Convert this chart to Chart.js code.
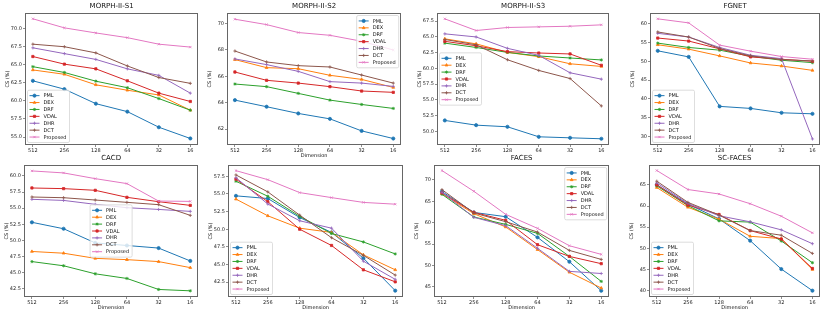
<!DOCTYPE html>
<html>
<head>
<meta charset="utf-8">
<script src="https://cdn.jsdelivr.net/npm/chart.js@4.4.0/dist/chart.umd.min.js"></script>
<style>
  body { margin: 0; background: #fff; }
  #wrap { position: relative; width: 830px; height: 314px; overflow: hidden; background: #fff; }
  .panel { position: absolute; }
</style>
</head>
<body>
<div id="wrap"></div>
<script>
const dimensions = ["512", "256", "128", "64", "32", "16"];
const methods = ["PML", "DEX", "DRF", "VDAL", "DHR", "DCT", "Proposed"];
const colors = ["#1f77b4", "#ff7f0e", "#2ca02c", "#d62728", "#9467bd", "#8c564b", "#e377c2"];
const markers = ["circle", "triangle", "star", "rect", "cross", "cross", "crossRot"];

// one row per method, in the order of `methods`
const morphS1 = [
  [62.75, 61.6, 59.6, 58.5, 56.35, 54.8],
  [64.25, 63.65, 62.2, 61.45, 60.8, 58.7],
  [64.7, 63.9, 62.7, 61.8, 60.3, 58.7],
  [66.1, 65.05, 64.4, 62.75, 61.05, 59.9],
  [67.3, 66.5, 65.7, 64.4, 63.5, 61.05],
  [67.8, 67.45, 66.6, 64.8, 63.2, 62.4],
  [71.3, 70.05, 69.35, 68.7, 67.8, 67.4]
];
const morphS2 = [
  [64.2, 63.7, 63.19, 62.78, 61.87, 61.29],
  [67.27, 66.66, 66.58, 66.08, 65.77, 65.16],
  [65.42, 65.22, 64.71, 64.2, 63.87, 63.57],
  [66.33, 65.7, 65.49, 65.22, 64.89, 64.79],
  [67.32, 66.89, 66.38, 65.6, 65.49, 65.24],
  [67.92, 67.09, 66.81, 66.71, 66.1, 65.49],
  [70.33, 69.92, 69.32, 69.11, 68.66, 68.0]
];
const morphS3 = [
  [51.75, 51.0, 50.74, 49.15, 48.99, 48.84],
  [64.7, 63.9, 62.55, 61.87, 60.74, 60.32],
  [64.02, 63.33, 62.55, 61.98, 61.66, 61.35],
  [64.3, 63.6, 62.67, 62.45, 62.3, 60.5],
  [65.49, 65.0, 63.19, 62.08, 59.31, 58.3],
  [64.6, 63.75, 61.38, 59.68, 58.4, 54.05],
  [67.87, 66.02, 66.5, 66.6, 66.7, 66.92]
];
const fgnet = [
  [52.77, 51.16, 38.04, 37.5, 36.34, 36.07],
  [54.38, 53.21, 51.43, 49.55, 48.75, 47.59],
  [54.82, 53.66, 52.95, 51.34, 50.27, 49.64],
  [56.16, 55.36, 53.3, 51.16, 50.54, 50.0],
  [57.41, 56.43, 53.66, 51.6, 50.7, 29.4],
  [57.77, 56.43, 53.39, 51.43, 50.45, 50.09],
  [61.25, 60.18, 54.29, 52.68, 51.25, 50.54]
];
const cacd = [
  [52.8, 51.8, 49.6, 49.2, 48.8, 46.8],
  [48.27, 48.0, 47.2, 47.0, 46.7, 45.76],
  [46.7, 46.05, 44.8, 44.08, 42.37, 42.16],
  [58.13, 58.03, 57.77, 56.68, 56.0, 55.43],
  [56.37, 56.2, 55.59, 55.07, 54.8, 54.5],
  [56.73, 56.62, 56.26, 55.9, 55.54, 53.88],
  [60.78, 60.47, 59.58, 58.81, 56.1, 56.05]
];
const untitled = [
  [54.73, 54.35, 51.66, 49.55, 45.9, 41.3],
  [54.27, 51.9, 50.15, 49.55, 46.37, 44.25],
  [56.8, 54.67, 51.83, 49.4, 48.2, 46.5],
  [57.1, 53.9, 50.0, 47.7, 44.25, 42.55],
  [57.3, 53.57, 51.2, 50.15, 45.47, 42.9],
  [57.69, 55.29, 52.0, 48.8, 46.3, 43.5],
  [58.3, 57.02, 55.19, 54.48, 53.8, 53.55]
];
const faces = [
  [67.3, 62.4, 61.4, 56.56, 50.86, 44.06],
  [66.8, 62.1, 59.0, 53.7, 48.4, 44.7],
  [66.64, 61.33, 59.6, 57.5, 52.1, 46.25],
  [66.95, 62.42, 60.55, 54.84, 52.1, 50.4],
  [67.1, 61.25, 59.3, 54.0, 48.6, 48.1],
  [67.73, 62.27, 60.23, 57.8, 53.5, 51.4],
  [72.2, 67.35, 61.95, 58.67, 54.6, 52.58]
];
const scFaces = [
  [65.0, 60.47, 56.96, 51.82, 45.1, 40.0],
  [64.37, 59.7, 56.9, 52.85, 52.3, 45.0],
  [64.76, 60.1, 56.5, 56.2, 51.74, 46.6],
  [65.0, 60.24, 58.0, 54.2, 52.2, 45.24],
  [65.47, 60.63, 57.7, 56.27, 54.37, 51.1],
  [65.87, 60.87, 57.87, 54.2, 53.1, 48.8],
  [68.4, 63.9, 62.85, 60.55, 57.6, 53.66]
];

// y tick labels for each panel
const ticksS1 = [55, 57.5, 60, 62.5, 65, 67.5, 70];
const ticksS2 = [62, 64, 66, 68, 70];
const ticksS3 = [50, 52.5, 55, 57.5, 60, 62.5, 65, 67.5];
const ticksFgnet = [30, 35, 40, 45, 50, 55, 60];
const ticksCacd = [42.5, 45, 47.5, 50, 52.5, 55, 57.5, 60];
const ticksUntitled = [42.5, 45, 47.5, 50, 52.5, 55, 57.5];
const ticksFaces = [45, 50, 55, 60, 65, 70];
const ticksScFaces = [40, 45, 50, 55, 60, 65];

const FONT = '"DejaVu Sans", sans-serif';
const Y_W = 25, X_H = 16, TOP_PAD = 12, RIGHT_PAD = 3;

const panels = [
  { title: "MORPH-II-S1", data: morphS1, yt: ticksS1, dec: 1, min: 53.9, max: 72.1, box: [25, 13, 200, 145], legend: "lower left", xTitle: "" },
  { title: "MORPH-II-S2", data: morphS2, yt: ticksS2, dec: 0, min: 60.8, max: 70.8, box: [227, 13, 403, 145], legend: "upper right", xTitle: "Dimension" },
  { title: "MORPH-II-S3", data: morphS3, yt: ticksS3, dec: 1, min: 47.85, max: 68.8, box: [437, 13, 611, 145], legend: "center left", xTitle: "" },
  { title: "FGNET", data: fgnet, yt: ticksFgnet, dec: 0, min: 27.8, max: 62.8, box: [650, 13, 822, 145], legend: "lower left", xTitle: "" },
  { title: "CACD", data: cacd, yt: ticksCacd, dec: 1, min: 41.2, max: 61.7, box: [24, 165, 200, 297], legend: "center", xTitle: "Dimension" },
  { title: "", data: untitled, yt: ticksUntitled, dec: 1, min: 40.4, max: 59.1, box: [228, 165, 405, 297], legend: "lower left", xTitle: "Dimension" },
  { title: "FACES", data: faces, yt: ticksFaces, dec: 0, min: 42.6, max: 73.5, box: [434, 165, 611, 297], legend: "upper right", xTitle: "Dimension" },
  { title: "SC-FACES", data: scFaces, yt: ticksScFaces, dec: 0, min: 38.5, max: 69.7, box: [649, 165, 822, 297], legend: "lower left", xTitle: "Dimension" }
];

function drawMarker(ctx, style, r, x, y, color) {
  ctx.fillStyle = color;
  ctx.strokeStyle = color;
  ctx.lineWidth = 0.8;
  Chart.helpers.drawPoint(ctx, { pointStyle: style, radius: r, borderWidth: 0.8, rotation: 0 }, x, y);
}

// title, frame and legend drawn like matplotlib axes
const axesDeco = {
  id: "axesDeco",
  afterDatasetsDraw(chart, args, opts) {
    const ctx = chart.ctx, a = chart.chartArea;
    ctx.save();
    ctx.strokeStyle = "#666";
    ctx.lineWidth = 1;
    ctx.strokeRect(Math.round(a.left) + 0.5, Math.round(a.top) + 0.5, Math.round(a.right - a.left) - 1, Math.round(a.bottom - a.top) - 1);
    ctx.restore();
  },
  afterDraw(chart, args, opts) {
    const ctx = chart.ctx, a = chart.chartArea;
    ctx.save();
    if (opts.title) {
      ctx.font = "7px " + FONT;
      ctx.fillStyle = "#111";
      ctx.textAlign = "center";
      ctx.textBaseline = "middle";
      ctx.fillText(opts.title, (a.left + a.right) / 2, a.top - 6.5);
    }
    // legend
    ctx.font = "5px " + FONT;
    const rowH = 6.9, pad = 2, handle = 10, gap = 4, axPad = 2.5;
    const tw = Math.max(...methods.map(m => ctx.measureText(m).width));
    const w = pad * 2 + handle + gap + tw + 1, h = pad * 2 + rowH * methods.length;
    let x, y;
    if (opts.legend === "lower left") { x = a.left + axPad; y = a.bottom - axPad - h; }
    else if (opts.legend === "upper right") { x = a.right - axPad - w; y = a.top + axPad; }
    else if (opts.legend === "center left") { x = a.left + axPad; y = (a.top + a.bottom) / 2 - h / 2; }
    else { x = (a.left + a.right) / 2 - w / 2; y = (a.top + a.bottom) / 2 - h / 2; }
    const r = 1.5;
    ctx.beginPath();
    ctx.moveTo(x + r, y);
    ctx.lineTo(x + w - r, y);
    ctx.arcTo(x + w, y, x + w, y + r, r);
    ctx.lineTo(x + w, y + h - r);
    ctx.arcTo(x + w, y + h, x + w - r, y + h, r);
    ctx.lineTo(x + r, y + h);
    ctx.arcTo(x, y + h, x, y + h - r, r);
    ctx.lineTo(x, y + r);
    ctx.arcTo(x, y, x + r, y, r);
    ctx.closePath();
    ctx.fillStyle = "rgba(255,255,255,0.8)";
    ctx.fill();
    ctx.strokeStyle = "#d4d4d4";
    ctx.lineWidth = 0.8;
    ctx.stroke();
    methods.forEach((m, i) => {
      const cy = y + pad + rowH * (i + 0.5);
      ctx.strokeStyle = colors[i];
      ctx.lineWidth = 1;
      ctx.beginPath();
      ctx.moveTo(x + pad, cy);
      ctx.lineTo(x + pad + handle, cy);
      ctx.stroke();
      drawMarker(ctx, markers[i], 1.6, x + pad + handle / 2, cy, colors[i]);
      ctx.fillStyle = "#111";
      ctx.textAlign = "left";
      ctx.textBaseline = "middle";
      ctx.fillText(m, x + pad + handle + gap, cy + 0.3);
    });
    ctx.restore();
  }
};

const wrap = document.getElementById("wrap");

panels.forEach((p) => {
  const [l, t, r, b] = p.box;
  const w = (r - l) + Y_W + RIGHT_PAD;
  const h = (b - t) + TOP_PAD + X_H;
  const div = document.createElement("div");
  div.className = "panel";
  div.style.left = (l - Y_W) + "px";
  div.style.top = (t - TOP_PAD) + "px";
  div.style.width = w + "px";
  div.style.height = h + "px";
  const canvas = document.createElement("canvas");
  canvas.width = w;
  canvas.height = h;
  canvas.style.width = w + "px";
  canvas.style.height = h + "px";
  div.appendChild(canvas);
  wrap.appendChild(div);

  const datasets = methods.map((m, i) => ({
    label: m,
    data: p.data[i].map((v, k) => ({ x: k, y: v })),
    borderColor: colors[i],
    backgroundColor: colors[i],
    borderWidth: 1,
    pointStyle: markers[i],
    pointRadius: 1.6,
    pointBorderWidth: 0.8,
    pointBackgroundColor: colors[i],
    pointBorderColor: colors[i],
    tension: 0,
    order: methods.length - 1 - i
  }));

  new Chart(canvas.getContext("2d"), {
    type: "line",
    data: { datasets },
    plugins: [axesDeco],
    options: {
      responsive: false,
      animation: false,
      devicePixelRatio: 1,
      events: [],
      layout: { padding: { top: TOP_PAD, right: RIGHT_PAD, left: 0, bottom: 0 } },
      plugins: {
        legend: { display: false },
        tooltip: { enabled: false },
        title: { display: false },
        axesDeco: { title: p.title, legend: p.legend }
      },
      scales: {
        x: {
          type: "linear",
          min: -0.25,
          max: 5.25,
          afterBuildTicks: (s) => { s.ticks = dimensions.map((d, i) => ({ value: i })); },
          afterFit: (s) => { s.height = X_H; },
          ticks: {
            callback: (v) => dimensions[v],
            font: { size: 5, family: FONT },
            color: "#222",
            padding: 1,
            maxRotation: 0,
            autoSkip: false
          },
          grid: { display: true, drawOnChartArea: false, drawTicks: true, tickLength: 2, color: "#444", lineWidth: 0.6 },
          border: { display: false },
          title: { display: !!p.xTitle, text: p.xTitle, font: { size: 5, family: FONT }, color: "#111", padding: { top: 2, bottom: 2 } }
        },
        y: {
          min: p.min,
          max: p.max,
          afterBuildTicks: (s) => { s.ticks = p.yt.map(v => ({ value: v })); },
          afterFit: (s) => { s.width = Y_W; },
          ticks: {
            callback: (v) => Number(v).toFixed(p.dec),
            font: { size: 5, family: FONT },
            color: "#222",
            padding: 1
          },
          grid: { display: true, drawOnChartArea: false, drawTicks: true, tickLength: 2, color: "#444", lineWidth: 0.6 },
          border: { display: false },
          title: { display: true, text: "CS (%)", font: { size: 5, family: FONT }, color: "#111", padding: { top: 5, bottom: 5 } }
        }
      }
    }
  });
});
</script>
</body>
</html>
